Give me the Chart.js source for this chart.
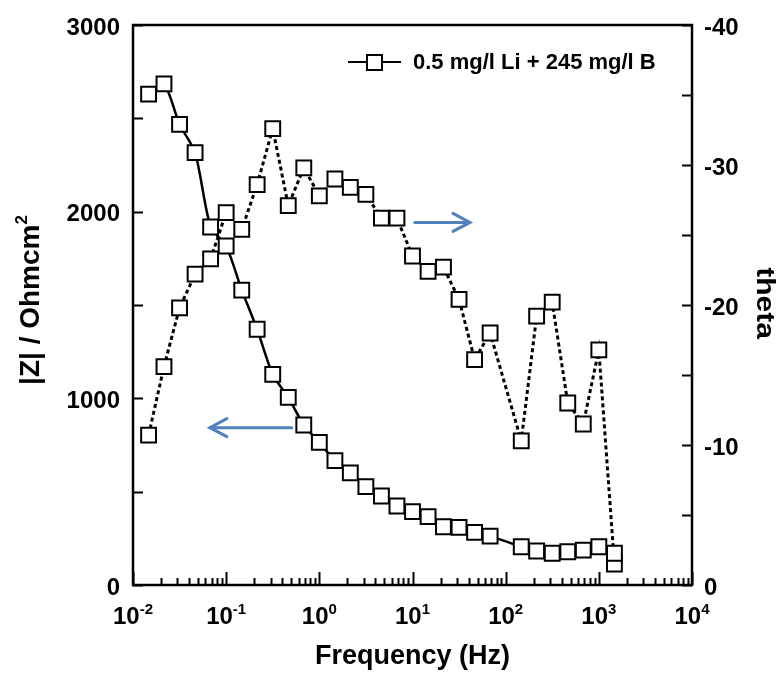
<!DOCTYPE html>
<html>
<head>
<meta charset="utf-8">
<script src="https://cdn.jsdelivr.net/npm/chart.js@4.4.1/dist/chart.umd.min.js"></script>
<style>
  html, body { margin: 0; padding: 0; background: #fff; }
  canvas { display: block; }
</style>
</head>
<body>
<canvas id="bode" width="780" height="674"></canvas>
<script>
// ─── dados ───────────────────────────────────────────────────────────
const freqHz = [0.0147, 0.0215, 0.0316, 0.0464, 0.0681, 0.1, 0.147, 0.215, 0.316, 0.464,
                0.681, 1, 1.47, 2.15, 3.16, 4.64, 6.81, 10, 14.7, 21.5,
                31.6, 46.4, 68.1, 147, 215, 316, 464, 681, 1000, 1470];
const zModulus = [2630, 2685, 2468, 2316, 1918, 1816, 1580, 1370, 1128, 1005,
                  857, 764, 666, 601, 527, 477, 423, 393, 366, 312,
                  309, 282, 262, 205, 182, 170, 178, 187, 205, 170];
const thetaDeg = [-10.7, -15.6, -19.8, -22.2, -23.3, -26.6, -25.4, -28.6, -32.6, -27.1,
                  -29.8, -27.8, -29.0, -28.4, -27.9, -26.2, -26.2, -23.5, -22.4, -22.7,
                  -20.4, -16.1, -18.0, -10.3, -19.2, -20.2, -13.0, -11.5, -16.8, -1.5];

const zTicks      = [0, 1000, 2000, 3000];
const zMinor      = [500, 1500, 2500];
const thetaTicks  = [0, -10, -20, -30, -40];
const thetaMinor  = [-5, -15, -25, -35];
const freqDecades = [0.01, 0.1, 1, 10, 100, 1000, 10000];
const freqExps    = ['-2', '-1', '0', '1', '2', '3', '4'];
const freqMinorK  = [2, 3, 4, 5, 6, 7, 8, 9];

const legendLabel = '0.5 mg/l Li + 245 mg/l B';
// setas azuis (anotações): de -> para, em unidades dos eixos
const arrowNotes = [
  { from: 10.6, to: 41.4, axis: 'y2', at: -25.9 },
  { from: 0.505, to: 0.0668, axis: 'y', at: 843 },
];

const FONT = '"Liberation Sans", Arial, sans-serif';
const BLUE = '#4f81bd';

const pts = (ys) => freqHz.map((f, i) => ({ x: f, y: ys[i] }));

function fixSize(prop, val) {
  return (s) => { s[prop] = val; };
}

const framePlugin = {
  id: 'frame',
  beforeDatasetsDraw(chart) {
    const { ctx, chartArea: a, scales } = chart;
    const sx = scales.x, sy = scales.y, st = scales.y2;
    ctx.save();
    ctx.strokeStyle = '#000';
    ctx.lineWidth = 2.5;
    ctx.strokeRect(a.left, a.top, a.right - a.left, a.bottom - a.top);

    ctx.lineWidth = 2;
    ctx.beginPath();
    [...zTicks, ...zMinor].forEach(v => {
      const y = Math.round(sy.getPixelForValue(v)) + 0.5;
      ctx.moveTo(a.left, y); ctx.lineTo(a.left + 10, y);
    });
    [...thetaTicks, ...thetaMinor].forEach(v => {
      const y = Math.round(st.getPixelForValue(v)) + 0.5;
      ctx.moveTo(a.right, y); ctx.lineTo(a.right - 10, y);
    });
    freqDecades.forEach((d, i) => {
      const x = Math.round(sx.getPixelForValue(d)) + 0.5;
      ctx.moveTo(x, a.bottom); ctx.lineTo(x, a.bottom - 13);
      if (i < freqDecades.length - 1) {
        freqMinorK.forEach(k => {
          const xm = Math.round(sx.getPixelForValue(k * d)) + 0.5;
          ctx.moveTo(xm, a.bottom); ctx.lineTo(xm, a.bottom - 7);
        });
      }
    });
    ctx.stroke();

    // rótulos dos eixos
    ctx.fillStyle = '#000';
    ctx.font = 'bold 24px ' + FONT;
    ctx.textBaseline = 'middle';
    ctx.textAlign = 'right';
    zTicks.forEach(v => ctx.fillText(String(v), 120, sy.getPixelForValue(v) + 3));
    ctx.textAlign = 'left';
    thetaTicks.forEach(v => ctx.fillText(String(v), 704, st.getPixelForValue(v) + 3));

    ctx.textBaseline = 'alphabetic';
    freqDecades.forEach((d, i) => {
      const x = sx.getPixelForValue(d);
      ctx.font = 'bold 24px ' + FONT;
      const wBase = ctx.measureText('10').width;
      ctx.font = 'bold 15px ' + FONT;
      const wExp = ctx.measureText(freqExps[i]).width;
      const x0 = x - (wBase + wExp) / 2;
      ctx.textAlign = 'left';
      ctx.font = 'bold 24px ' + FONT;
      ctx.fillText('10', x0, 624);
      ctx.font = 'bold 15px ' + FONT;
      ctx.fillText(freqExps[i], x0 + wBase, 614);
    });

    // títulos
    ctx.font = 'bold 27px ' + FONT;
    ctx.textAlign = 'center';
    ctx.fillText('Frequency (Hz)', (a.left + a.right) / 2, 664);

    ctx.save();
    ctx.translate(39, 300);
    ctx.rotate(-Math.PI / 2);
    ctx.font = 'bold 28px ' + FONT;
    const t1 = '|Z| / Ohmcm';
    const w1 = ctx.measureText(t1).width;
    ctx.font = 'bold 17px ' + FONT;
    const w2 = ctx.measureText('2').width;
    ctx.textAlign = 'left';
    ctx.font = 'bold 28px ' + FONT;
    ctx.fillText(t1, -(w1 + w2) / 2, 0);
    ctx.font = 'bold 17px ' + FONT;
    ctx.fillText('2', -(w1 + w2) / 2 + w1, -12);
    ctx.restore();

    ctx.save();
    ctx.translate(757, 303);
    ctx.rotate(Math.PI / 2);
    ctx.scale(1.2, 1);
    ctx.font = 'bold 25px ' + FONT;
    ctx.textAlign = 'center';
    ctx.fillText('theta', 0, 0);
    ctx.restore();

    ctx.restore();
  },
  afterDraw(chart) {
    const { ctx, scales } = chart;
    ctx.save();
    // setas
    ctx.strokeStyle = BLUE;
    ctx.lineWidth = 3;
    ctx.lineCap = 'round';
    arrowNotes.forEach(n => {
      const x0 = scales.x.getPixelForValue(n.from);
      const x1 = scales.x.getPixelForValue(n.to);
      const y = scales[n.axis].getPixelForValue(n.at);
      const dir = Math.sign(x1 - x0);
      ctx.beginPath();
      ctx.moveTo(x0, y); ctx.lineTo(x1, y);
      ctx.moveTo(x1 - dir * 17, y - 9); ctx.lineTo(x1, y); ctx.lineTo(x1 - dir * 17, y + 9);
      ctx.stroke();
    });

    // legenda
    const ly = 62;
    ctx.strokeStyle = '#000';
    ctx.lineWidth = 2;
    ctx.lineCap = 'butt';
    ctx.beginPath();
    ctx.moveTo(348, ly); ctx.lineTo(401, ly);
    ctx.stroke();
    ctx.fillStyle = '#fff';
    ctx.fillRect(367, ly - 7, 15, 15);
    ctx.strokeRect(367, ly - 7, 15, 15);
    ctx.fillStyle = '#000';
    ctx.font = 'bold 22px ' + FONT;
    ctx.textAlign = 'left';
    ctx.textBaseline = 'middle';
    ctx.fillText(legendLabel, 413, ly + 1);
    ctx.restore();
  }
};

new Chart(document.getElementById('bode').getContext('2d'), {
  type: 'line',
  data: {
    datasets: [
      {
        label: '|Z|', data: pts(zModulus), yAxisID: 'y',
        borderColor: '#000', borderWidth: 2.5, tension: 0.25,
        pointStyle: 'rect', pointRadius: 10.5, pointBorderWidth: 2,
        pointBackgroundColor: '#fff', pointBorderColor: '#000', clip: false,
      },
      {
        label: 'theta', data: pts(thetaDeg), yAxisID: 'y2',
        borderColor: '#000', borderWidth: 3, borderDash: [4, 3], tension: 0,
        pointStyle: 'rect', pointRadius: 10.5, pointBorderWidth: 2,
        pointBackgroundColor: '#fff', pointBorderColor: '#000', clip: false,
      },
    ]
  },
  options: {
    responsive: false,
    animation: false,
    layout: { padding: { top: 25, left: 0, right: 0, bottom: 0 } },
    plugins: { legend: { display: false }, tooltip: { enabled: false } },
    scales: {
      x: {
        type: 'logarithmic', position: 'bottom', min: 0.01, max: 10000,
        ticks: { display: false }, grid: { display: false }, border: { display: false },
        afterFit: fixSize('height', 89),
      },
      y: {
        type: 'linear', position: 'left', min: 0, max: 3000,
        ticks: { display: false }, grid: { display: false }, border: { display: false },
        afterFit: fixSize('width', 133),
      },
      y2: {
        type: 'linear', position: 'right', min: -40, max: 0, reverse: true,
        ticks: { display: false }, grid: { display: false }, border: { display: false },
        afterFit: fixSize('width', 88),
      },
    }
  },
  plugins: [framePlugin]
});
</script>
</body>
</html>
